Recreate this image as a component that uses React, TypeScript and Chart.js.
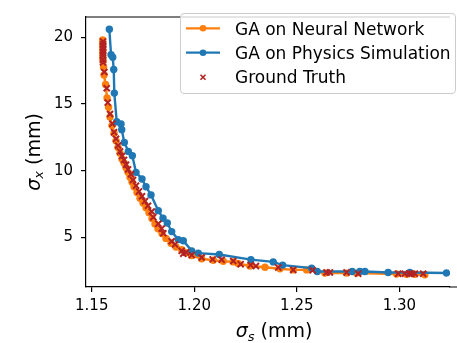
import React, { useEffect, useRef } from "react";
import { Chart, registerables } from "chart.js";

Chart.register(...registerables);

// ---- data ----
const seriesLabels = ["GA on Neural Network", "GA on Physics Simulation", "Ground Truth"];

const nnX = [
  1.15536, 1.15536, 1.15536, 1.15536, 1.15536, 1.15536, 1.15551, 1.15575, 1.15599, 1.15673,
  1.15746, 1.15819, 1.15892, 1.15989, 1.16087, 1.16184, 1.16282, 1.1638, 1.16477, 1.16574,
  1.16672, 1.1677, 1.16867, 1.16964, 1.17062, 1.17208, 1.17354, 1.175, 1.17646, 1.17792,
  1.17939, 1.18085, 1.18231, 1.18426, 1.18621, 1.18865, 1.19108, 1.19386, 1.19596, 1.19873,
  1.20361, 1.20926, 1.21413, 1.21901, 1.22144, 1.22715, 1.23446, 1.24177, 1.24825, 1.25478,
  1.2637, 1.27427, 1.27914, 1.29864, 1.30351, 1.30756, 1.31243,
];
const nnY = [
  19.8, 19.55, 19.33, 19.05, 18.76, 18.47, 18.19, 17.76, 17.18, 16.47,
  15.46, 14.75, 14.03, 13.39, 12.81, 12.24, 11.74, 11.31, 10.88, 10.59,
  10.23, 9.88, 9.52, 9.16, 8.8, 8.37, 7.94, 7.58, 7.22, 6.86,
  6.43, 6.01, 5.65, 5.29, 4.93, 4.57, 4.29, 4.08, 3.86, 3.65,
  3.41, 3.29, 3.22, 3.17, 3.05, 2.86, 2.77, 2.66, 2.57, 2.57,
  2.33, 2.33, 2.33, 2.26, 2.25, 2.25, 2.21,
];

const simX = [
  1.15858, 1.15941, 1.16023, 1.16072, 1.16101, 1.16218, 1.16428, 1.16462, 1.16589, 1.16784,
  1.16979, 1.17159, 1.17451, 1.17646, 1.1789, 1.18246, 1.18475, 1.18684, 1.18899, 1.1922,
  1.19464, 1.19873, 1.20195, 1.21218, 1.22763, 1.2385, 1.24308, 1.25721, 1.25994, 1.277,
  1.28075, 1.2832, 1.29454, 1.30512, 1.323,
];
const simY = [
  20.6, 18.69, 18.5, 17.59, 15.82, 13.67, 13.51, 13.08, 12.12, 11.45,
  11.12, 9.88, 9.38, 8.8, 8.19, 7.01, 6.44, 6.08, 5.44, 4.84,
  4.76, 4.0, 3.83, 3.72, 3.34, 3.17, 2.93, 2.7, 2.45, 2.45,
  2.45, 2.45, 2.38, 2.38, 2.34,
];

const gtX = [
  1.15551, 1.15551, 1.15551, 1.15551, 1.15551, 1.15551, 1.15551, 1.15551, 1.15614, 1.15731,
  1.1578, 1.15892, 1.16004, 1.16087, 1.16184, 1.16282, 1.1638, 1.16477, 1.16574, 1.16672,
  1.1677, 1.16916, 1.17013, 1.1716, 1.17305, 1.17451, 1.17598, 1.17744, 1.17924, 1.18002,
  1.18246, 1.18411, 1.18489, 1.18899, 1.19059, 1.19386, 1.19464, 1.19596, 1.19873, 1.20361,
  1.20897, 1.21335, 1.21901, 1.22261, 1.22749, 1.23007, 1.24094, 1.24825, 1.2577, 1.26452,
  1.26613, 1.27427, 1.27992, 1.29942, 1.30268, 1.30478, 1.30595, 1.30756, 1.3116,
];
const gtY = [
  19.69, 19.48, 19.26, 19.05, 18.83, 18.62, 18.33, 18.12, 17.4, 16.18,
  15.11, 14.25, 13.53, 12.89, 12.39, 11.89, 11.45, 11.1, 10.81, 10.45,
  10.1, 9.74, 9.31, 8.88, 8.45, 8.09, 7.73, 7.38, 6.95, 6.52,
  6.03, 5.67, 5.32, 4.72, 4.48, 4.0, 3.79, 3.88, 3.68, 3.5,
  3.36, 3.34, 3.24, 3.0, 2.93, 2.86, 2.76, 2.57, 2.54, 2.38,
  2.38, 2.38, 2.29, 2.29, 2.29, 2.29, 2.29, 2.29, 2.29,
];

const xTicks = [1.15, 1.2, 1.25, 1.3];
const yTicks = [5, 10, 15, 20];
const xTitleParts = ["σ", "s", " (mm)"];
const yTitleParts = ["σ", "x", " (mm)"];

// ---- styling ----
const ORANGE = "#ff7f0e";
const BLUE = "#1f77b4";
const RED = "#b22222";
const FAMILY = "'DejaVu Sans', sans-serif";
const W = 457;
const H = 343;

function drawMathLabel(ctx: CanvasRenderingContext2D, parts: string[], cx: number, baseline: number, size: number) {
  const fMain = `italic ${size}px ${FAMILY}`;
  const fSub = `italic ${Math.round(size * 0.7)}px ${FAMILY}`;
  const fRest = `${size}px ${FAMILY}`;
  ctx.font = fMain;
  const w1 = ctx.measureText(parts[0]).width;
  ctx.font = fSub;
  const w2 = ctx.measureText(parts[1]).width;
  ctx.font = fRest;
  const w3 = ctx.measureText(parts[2]).width;
  const total = w1 + w2 + w3;
  let x = cx - total / 2;
  ctx.textAlign = "left";
  ctx.textBaseline = "alphabetic";
  ctx.fillStyle = "#000";
  ctx.font = fMain;
  ctx.fillText(parts[0], x, baseline);
  x += w1;
  ctx.font = fSub;
  ctx.fillText(parts[1], x, baseline + size * 0.2);
  x += w2;
  ctx.font = fRest;
  ctx.fillText(parts[2], x, baseline);
}

const decorPlugin = {
  id: "decor",
  afterDraw(chart: any) {
    const ctx: CanvasRenderingContext2D = chart.ctx;
    const a = chart.chartArea;
    ctx.save();
    // top spine, and bottom spine running on to the figure edge
    ctx.strokeStyle = "#000";
    ctx.lineWidth = 1.2;
    ctx.beginPath();
    ctx.moveTo(a.left, a.top);
    ctx.lineTo(a.right, a.top);
    ctx.moveTo(a.right - 1, a.bottom);
    ctx.lineTo(chart.width, a.bottom);
    ctx.stroke();

    // axis titles
    drawMathLabel(ctx, xTitleParts, 274, 337, 19);
    const cy = (a.top + a.bottom) / 2;
    ctx.save();
    ctx.translate(33, cy);
    ctx.rotate(-Math.PI / 2);
    drawMathLabel(ctx, yTitleParts, 0, 6.5, 19);
    ctx.restore();

    // legend
    const lx = 180.5, ly = 13.5, lw = 275, lh = 80;
    ctx.beginPath();
    (ctx as any).roundRect(lx, ly, lw, lh, 3.5);
    ctx.fillStyle = "rgba(255,255,255,0.8)";
    ctx.fill();
    ctx.strokeStyle = "#cccccc";
    ctx.lineWidth = 1;
    ctx.stroke();

    const rows = [28.3, 52.7, 77.2];
    const colors = [ORANGE, BLUE, RED];
    for (let i = 0; i < 3; i++) {
      const y = rows[i];
      if (i < 2) {
        ctx.strokeStyle = colors[i];
        ctx.lineWidth = 2.3;
        ctx.beginPath();
        ctx.moveTo(186, y);
        ctx.lineTo(220, y);
        ctx.stroke();
        ctx.fillStyle = colors[i];
        ctx.beginPath();
        ctx.arc(203, y, 3.3, 0, Math.PI * 2);
        ctx.fill();
      } else {
        ctx.strokeStyle = RED;
        ctx.lineWidth = 1.6;
        ctx.beginPath();
        ctx.moveTo(200.5, y - 2.5);
        ctx.lineTo(205.5, y + 2.5);
        ctx.moveTo(200.5, y + 2.5);
        ctx.lineTo(205.5, y - 2.5);
        ctx.stroke();
      }
      ctx.fillStyle = "#000";
      ctx.font = `17px ${FAMILY}`;
      ctx.textAlign = "left";
      ctx.textBaseline = "alphabetic";
      ctx.fillText(seriesLabels[i], 235, y + 6.2);
    }
    ctx.restore();
  },
};

export default function App() {
  const ref = useRef<HTMLCanvasElement | null>(null);

  useEffect(() => {
    document.body.style.margin = "0";
    if (!ref.current) return;
    const chart = new Chart(ref.current, {
      type: "scatter",
      data: {
        datasets: [
          {
            label: seriesLabels[0],
            data: nnX.map((x, i) => ({ x, y: nnY[i] })),
            showLine: true,
            borderColor: ORANGE,
            backgroundColor: ORANGE,
            borderWidth: 2.4,
            pointRadius: 3.7,
            pointBorderWidth: 0,
            pointBackgroundColor: ORANGE,
            order: 3,
          },
          {
            label: seriesLabels[1],
            data: simX.map((x, i) => ({ x, y: simY[i] })),
            showLine: true,
            borderColor: BLUE,
            backgroundColor: BLUE,
            borderWidth: 2.4,
            pointRadius: 3.7,
            pointBorderWidth: 0,
            pointBackgroundColor: BLUE,
            order: 2,
          },
          {
            label: seriesLabels[2],
            data: gtX.map((x, i) => ({ x, y: gtY[i] })),
            showLine: false,
            pointStyle: "crossRot",
            pointRadius: 4.3,
            pointBorderWidth: 2,
            pointBorderColor: RED,
            borderColor: RED,
            backgroundColor: RED,
            order: 1,
          },
        ],
      },
      options: {
        responsive: false,
        maintainAspectRatio: false,
        animation: false,
        layout: { padding: { top: 5, right: 7, left: 0, bottom: 0 } },
        plugins: {
          legend: { display: false },
          tooltip: { enabled: false },
          title: { display: false },
        },
        scales: {
          x: {
            type: "linear",
            min: 1.1472,
            max: 1.3247,
            afterFit: (s: any) => {
              s.height = H - 287;
            },
            afterBuildTicks: (s: any) => {
              s.ticks = xTicks.map((v) => ({ value: v }));
            },
            ticks: {
              callback: (v: any) => Number(v).toFixed(2),
              font: { family: FAMILY, size: 15 },
              color: "#000",
              padding: 5,
              maxRotation: 0,
              autoSkip: false,
            },
            grid: {
              display: true,
              drawOnChartArea: false,
              drawTicks: true,
              tickLength: 5,
              color: "#000",
              lineWidth: 1.2,
            },
            border: { display: true, color: "#000", width: 1.2 },
          },
          y: {
            type: "linear",
            min: 1.29,
            max: 21.52,
            afterFit: (s: any) => {
              s.width = 86;
            },
            afterBuildTicks: (s: any) => {
              s.ticks = yTicks.map((v) => ({ value: v }));
            },
            ticks: {
              callback: (v: any) => String(v),
              font: { family: FAMILY, size: 15 },
              color: "#000",
              padding: 8,
              autoSkip: false,
            },
            grid: {
              display: true,
              drawOnChartArea: false,
              drawTicks: true,
              tickLength: 5,
              color: "#000",
              lineWidth: 1.2,
            },
            border: { display: true, color: "#000", width: 1.2 },
          },
        },
      },
      plugins: [decorPlugin],
    } as any);
    return () => chart.destroy();
  }, []);

  return (
    <div style={{ width: W, height: H, overflow: "hidden", position: "relative", background: "#fff" }}>
      <canvas ref={ref} width={W} height={H} style={{ width: W, height: H, display: "block" }} />
    </div>
  );
}
